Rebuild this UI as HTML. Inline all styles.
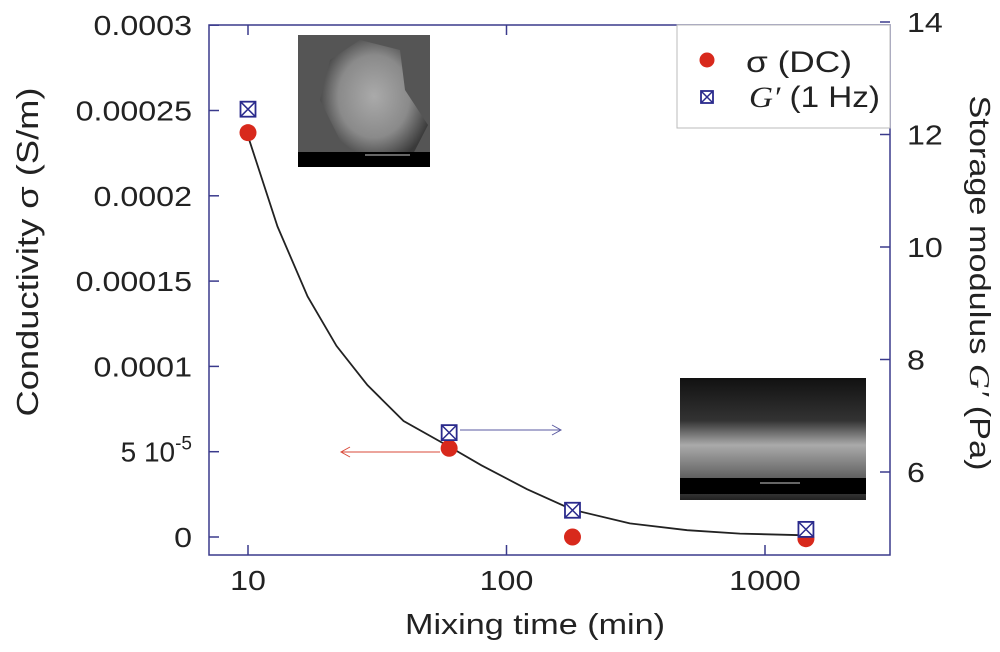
<!DOCTYPE html>
<html><head><meta charset="utf-8">
<style>
body{margin:0;background:#fff;}
svg text{font-family:"Liberation Sans",sans-serif;fill:#222;}
</style></head>
<body>
<svg id="chart" width="1000" height="647" viewBox="0 0 1000 647" xmlns="http://www.w3.org/2000/svg">
<defs>
<radialGradient id="sem1" cx="50%" cy="45%" r="55%"><stop offset="0" stop-color="#aaa"/><stop offset="0.6" stop-color="#8a8a8a"/><stop offset="1" stop-color="#3a3a3a"/></radialGradient>
<linearGradient id="sem2" x1="0" y1="0" x2="0" y2="1"><stop offset="0" stop-color="#111"/><stop offset="0.35" stop-color="#333"/><stop offset="0.55" stop-color="#aaa"/><stop offset="0.8" stop-color="#666"/><stop offset="1" stop-color="#222"/></linearGradient>
</defs>
<g id="plot"></g>
</svg>
<script>
const times = [10, 60, 180, 1440];
const sigmaValues = [0.000237, 0.000052, 0.0, -0.000001];
const gPrimeValues = [12.45, 6.7, 5.32, 4.98];
const fitTimes = [10,13,17,22,29,40,60,80,120,180,300,500,800,1440];
const fitSigma = [0.000235,0.000182,0.000141,0.000112,0.000089,0.000068,0.000053,0.000042,0.000028,0.000016,0.000008,0.000004,0.000002,0.000001];
const xTicks = [10,100,1000];
const xTickLabels = ["10","100","1000"];
const yLeftTicks = [0,0.00005,0.0001,0.00015,0.0002,0.00025,0.0003];
const yLeftLabels = ["0","5 10","0.0001","0.00015","0.0002","0.00025","0.0003"];
const yRightTicks = [6,8,10,12,14];
const yRightLabels = ["6","8","10","12","14"];

const L=209,R=890,T=25,B=555;
const xs = t => 248 + 258.5*Math.log10(t/10);
const yl = v => 537 - v/0.00005*85.3;
const yr = v => 472 - (v-6)*56.25;
const NS="http://www.w3.org/2000/svg";
const g=document.getElementById('plot');
function mk(tag,attrs,parent){const e=document.createElementNS(NS,tag);for(const k in attrs)e.setAttribute(k,attrs[k]);(parent||g).appendChild(e);return e;}

const fr=mk('rect',{x:L,y:T,width:R-L,height:B-T,fill:'none',stroke:'#3a3a8c','stroke-width':1.5});



const i1=mk('g',{});


mk('rect',{x:298,y:35,width:132,height:132,fill:'#555'},i1);
mk('path',{d:'M330 60 L360 40 L400 50 L405 90 L428 125 L410 160 L370 165 L340 140 L320 100 Z',fill:'url(#sem1)'},i1);
mk('rect',{x:298,y:152,width:132,height:15,fill:'#000'},i1);
mk('line',{x1:365,y1:155,x2:410,y2:155,stroke:'#ccc','stroke-width':1},i1);
const i2=mk('g',{});


mk('rect',{x:680,y:378,width:186,height:122,fill:'url(#sem2)'},i2);
mk('rect',{x:680,y:478,width:186,height:16,fill:'#000'},i2);
mk('line',{x1:760,y1:483,x2:800,y2:483,stroke:'#ccc','stroke-width':1},i2);

const stretch=[];
xTicks.forEach((t,i)=>{
 const x=xs(t);
 const tk=mk('line',{x1:x,y1:B,x2:x,y2:B-10,stroke:'#3a3a8c','stroke-width':1.5});
 
 
 mk('line',{x1:x,y1:T,x2:x,y2:T+10,stroke:'#3a3a8c','stroke-width':1.5});
 const lb=mk('text',{x:x,y:590,'font-size':28,'text-anchor':'middle'});
 lb.textContent=xTickLabels[i];
 
 
 stretch.push(lb);
});
yLeftTicks.forEach((v,i)=>{
 const y=yl(v);
 const tk=mk('line',{x1:L,y1:y,x2:L+10,y2:y,stroke:'#3a3a8c','stroke-width':1.5});
 
 
 const lb=mk('text',{x:192,y:y+10,'font-size':28,'text-anchor':'end'});
 lb.textContent=yLeftLabels[i];
 if(yLeftLabels[i]==="5 10"){
   const sp=document.createElementNS(NS,'tspan');
   sp.setAttribute('dy','-12');sp.setAttribute('font-size','19');
   sp.textContent='-5';lb.appendChild(sp);
 } else stretch.push(lb);
 
 
});
yRightTicks.forEach((v,i)=>{
 const y=yr(v);
 const tk=mk('line',{x1:R,y1:y,x2:R-10,y2:y,stroke:'#3a3a8c','stroke-width':1.5});
 
 
 const lb=mk('text',{x:907,y:y+10,'font-size':28});
 lb.textContent=yRightLabels[i];
 
 
 stretch.push(lb);
});

let d='';fitTimes.forEach((t,i)=>{d+=(i?'L':'M')+xs(t).toFixed(1)+' '+yl(fitSigma[i]).toFixed(1);});
const c=mk('path',{d:d,fill:'none',stroke:'#222','stroke-width':1.8});



const a1=mk('g',{});


mk('line',{x1:440,y1:452,x2:342,y2:452,stroke:'#d94a3a','stroke-width':1},a1);
mk('path',{d:'M350 447 L341 452 L350 457',fill:'none',stroke:'#d94a3a','stroke-width':1},a1);
const a2=mk('g',{});


mk('line',{x1:460,y1:430,x2:560,y2:430,stroke:'#5a5aa0','stroke-width':1},a2);
mk('path',{d:'M552 425 L561 430 L552 435',fill:'none',stroke:'#5a5aa0','stroke-width':1},a2);

times.forEach((t,i)=>{
 const p=mk('circle',{cx:xs(t),cy:yl(sigmaValues[i]),r:8.5,fill:'#d8291c'});
 
 
});
function gmark(x,y,parent,s){
 s=s||7.5;
 mk('rect',{x:x-s,y:y-s,width:2*s,height:2*s,fill:'#fff',stroke:'#2a2a8c','stroke-width':1.8},parent);
 mk('path',{d:`M${x-s} ${y-s}L${x+s} ${y+s}M${x+s} ${y-s}L${x-s} ${y+s}`,stroke:'#2a2a8c','stroke-width':1.5},parent);
}
times.forEach((t,i)=>{
 const gg=mk('g',{});
 
 
 gmark(xs(t),yr(gPrimeValues[i]),gg);
});

const lg=mk('g',{});


mk('rect',{x:677,y:25,width:213,height:103,fill:'#fff',stroke:'#bbb','stroke-width':1},lg);
mk('circle',{cx:707,cy:60,r:7.5,fill:'#d8291c'},lg);
const t1=mk('text',{x:746,y:72,'font-size':30,textLength:106,lengthAdjust:'spacingAndGlyphs'},lg);t1.textContent='\u03C3 (DC)';
gmark(707,97,lg,6);
const t2=mk('text',{x:749,y:107,'font-size':30,textLength:131,lengthAdjust:'spacingAndGlyphs'},lg);
t2.innerHTML='<tspan font-family="Liberation Serif" font-style="italic">G\u2032</tspan> (1 Hz)';

const xt=mk('text',{x:535,y:634,'font-size':29,'text-anchor':'middle',textLength:260,lengthAdjust:'spacingAndGlyphs'});
xt.textContent='Mixing time (min)';


const ylt=mk('text',{x:0,y:0,'font-size':31,'text-anchor':'middle',textLength:329,lengthAdjust:'spacingAndGlyphs',transform:'translate(38 252) rotate(-90)'});
ylt.textContent='Conductivity \u03C3 (S/m)';


const yrt=mk('text',{x:0,y:0,'font-size':29,'text-anchor':'middle',textLength:375,lengthAdjust:'spacingAndGlyphs',transform:'translate(970 283) rotate(90)'});
yrt.innerHTML='Storage modulus <tspan font-family="Liberation Serif" font-style="italic">G\u2032</tspan>  (Pa)';



stretch.forEach(t=>{const w=t.getComputedTextLength();t.setAttribute('textLength',(w*1.15).toFixed(1));t.setAttribute('lengthAdjust','spacingAndGlyphs');});
</script>
</body></html>
